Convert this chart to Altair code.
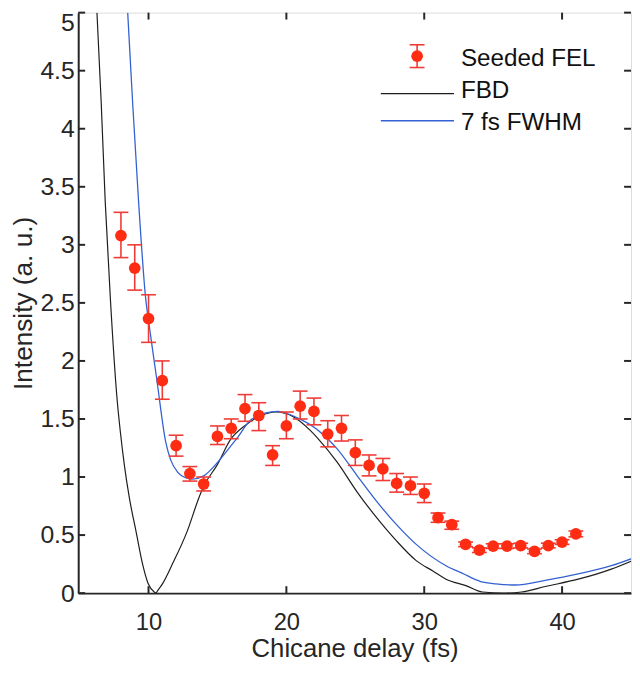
import altair as alt
import pandas as pd

# ---------------- data ----------------
delay = list(range(8, 42))
fel = [3.08, 2.80, 2.365, 1.83, 1.27, 1.03, 0.94, 1.35, 1.42, 1.59, 1.53, 1.19, 1.44, 1.61, 1.565,
       1.37, 1.42, 1.21, 1.10, 1.07, 0.945, 0.925, 0.86, 0.65, 0.59, 0.42, 0.37, 0.405, 0.405, 0.41,
       0.36, 0.41, 0.44, 0.51]
fel_hi = [3.28, 3.00, 2.57, 2.00, 1.36, 1.09, 1.00, 1.44, 1.50, 1.71, 1.64, 1.27, 1.56, 1.74, 1.68,
          1.485, 1.53, 1.32, 1.19, 1.16, 1.03, 1.00, 0.94, 0.69, 0.62, 0.44, 0.39, 0.425, 0.425, 0.43,
          0.38, 0.43, 0.46, 0.535]
fel_lo = [2.89, 2.61, 2.16, 1.67, 1.18, 0.965, 0.88, 1.28, 1.33, 1.48, 1.40, 1.10, 1.33, 1.50, 1.45,
          1.26, 1.31, 1.10, 1.01, 0.97, 0.87, 0.85, 0.78, 0.61, 0.55, 0.40, 0.35, 0.385, 0.385, 0.39,
          0.34, 0.39, 0.42, 0.485]

fbd_x = [6.26, 6.57, 6.86, 7.24, 7.72, 7.96, 8.25, 8.61, 9.09, 9.57, 9.98, 10.41, 10.55, 10.6,
         11.01, 11.73, 12.81, 13.65, 14.0, 14.96, 15.99, 16.96, 18.0, 19.23, 20.5, 21.75, 22.23,
         23.67, 25.11, 26.55, 27.99, 29.42, 30.63, 31.58, 33.02, 34.22, 35.7, 37.05, 38.78, 41.17,
         43.57, 45.1]
fbd_y = [5.0, 4.22, 3.37, 2.52, 1.67, 1.386, 1.10, 0.82, 0.534, 0.25, 0.08, 0.01, 0.0, 0.01,
         0.08, 0.25, 0.534, 0.82, 0.92, 1.10, 1.33, 1.44, 1.52, 1.56, 1.52, 1.40, 1.34,
         1.13, 0.875, 0.65, 0.45, 0.28, 0.19, 0.12, 0.065, 0.01, 0.0, 0.01, 0.057, 0.12,
         0.207, 0.28]

fwhm_x = [8.49, 8.85, 9.28, 9.81, 9.98, 10.6, 11.25, 11.6, 12.09, 12.81, 13.17, 14.0, 14.96, 15.92,
          16.4, 17.5, 19.35, 20.8, 22.23, 23.67, 25.11, 26.55, 27.99, 29.42, 31.58, 32.78, 34.1,
          35.2, 36.6, 38.78, 41.17, 43.57, 45.1]
fwhm_y = [5.0, 4.22, 3.37, 2.52, 2.365, 1.84, 1.30, 1.15, 1.045, 0.99, 0.982, 1.01, 1.12, 1.26,
          1.33, 1.50, 1.565, 1.51, 1.41, 1.245, 1.015, 0.79, 0.59, 0.42, 0.236, 0.17, 0.10,
          0.08, 0.07, 0.11, 0.165, 0.236, 0.30]

x_ticks = [10, 20, 30, 40]
y_ticks = [0, 0.5, 1, 1.5, 2, 2.5, 3, 3.5, 4, 4.5, 5]
legend_labels = ["Seeded FEL", "FBD", "7 fs FWHM"]

# ---------------- style ----------------
W, H = 559, 587
INK = "#262626"
PT = "#FF2C14"
ERR = "#EF3B36"
BLACK = "#1E1E1E"
BLUE = "#3461D1"
FONT = "Liberation Sans"

fel_df = pd.DataFrame({"x": delay, "y": fel, "hi": fel_hi, "lo": fel_lo})
fbd_df = pd.DataFrame({"x": fbd_x, "y": fbd_y})
fwhm_df = pd.DataFrame({"x": fwhm_x, "y": fwhm_y})
xt_df = pd.DataFrame({"v": x_ticks})
yt_df = pd.DataFrame({"v": y_ticks})

xscale = alt.Scale(domain=[4.9, 45], nice=False, zero=False)
yscale = alt.Scale(domain=[0, 5], nice=False, zero=False)

xaxis = alt.Axis(values=x_ticks, ticks=False, tickSize=0, grid=False, labelPadding=18,
                 labelFontSize=24, labelFont=FONT, labelColor=INK, labelOverlap=False,
                 domainColor=INK, domainWidth=2, title="Chicane delay (fs)",
                 titleFont=FONT, titleFontSize=26, titleFontWeight="normal", titleColor=INK,
                 titleBaseline="alphabetic", titleY=64.5)
yaxis = alt.Axis(values=y_ticks, format="~g", ticks=False, tickSize=0, grid=False, labelPadding=4,
                 labelFontSize=25, labelFont=FONT, labelColor=INK, labelOverlap=False,
                 labelOffset=alt.condition("datum.value == 5", alt.value(10), alt.value(0)),
                 domainColor=INK, domainWidth=2, title="Intensity (a. u.)",
                 titleFont=FONT, titleFontSize=26.5, titleFontWeight="normal", titleColor=INK,
                 titleBaseline="alphabetic", titleX=-47)

X = alt.X("x:Q", scale=xscale, axis=xaxis)
Y = alt.Y("y:Q", scale=yscale, axis=yaxis)

fbd_line = alt.Chart(fbd_df).mark_line(color=BLACK, strokeWidth=1.2, clip=True,
                                        interpolate="monotone").encode(x=X, y=Y)
fwhm_line = alt.Chart(fwhm_df).mark_line(color=BLUE, strokeWidth=1.3, clip=True,
                                          interpolate="monotone").encode(x="x:Q", y="y:Q")

err_v = alt.Chart(fel_df).mark_rule(color=ERR, strokeWidth=1.6).encode(
    x="x:Q", y="lo:Q", y2="hi:Q")
cap_hi = alt.Chart(fel_df).mark_rule(color=ERR, strokeWidth=1.6, xOffset=-7.5, x2Offset=7.5).encode(
    x="x:Q", x2="x:Q", y="hi:Q")
cap_lo = alt.Chart(fel_df).mark_rule(color=ERR, strokeWidth=1.6, xOffset=-7.5, x2Offset=7.5).encode(
    x="x:Q", x2="x:Q", y="lo:Q")
pts = alt.Chart(fel_df).mark_circle(color=PT, opacity=1, size=140).encode(x="x:Q", y="y:Q")

# inward ticks on all four sides
tk = dict(color=INK, strokeWidth=2)
t_left = alt.Chart(yt_df).mark_rule(**tk).encode(y="v:Q", x=alt.value(0), x2=alt.value(7))
t_right = alt.Chart(yt_df).mark_rule(**tk).encode(y="v:Q", x=alt.value(W - 7), x2=alt.value(W))
t_bottom = alt.Chart(xt_df).mark_rule(**tk).encode(x="v:Q", y=alt.value(H - 7), y2=alt.value(H))
t_top = alt.Chart(xt_df).mark_rule(**tk).encode(x="v:Q", y=alt.value(0), y2=alt.value(7))

# legend
one = alt.Data(values=[{"k": 0}])
lx, ly0, ly1, ly2 = 342.7, 44.0, 82.0, 109.3
lg_err = alt.Chart(one).mark_rule(color=ERR, strokeWidth=1.6).encode(
    x=alt.value(lx), y=alt.value(ly0 - 11.5), y2=alt.value(ly0 + 11.5))
lg_cap1 = alt.Chart(one).mark_rule(color=ERR, strokeWidth=1.6).encode(
    x=alt.value(lx - 7.5), x2=alt.value(lx + 7.5), y=alt.value(ly0 - 11.5))
lg_cap2 = alt.Chart(one).mark_rule(color=ERR, strokeWidth=1.6).encode(
    x=alt.value(lx - 7.5), x2=alt.value(lx + 7.5), y=alt.value(ly0 + 11.5))
lg_pt = alt.Chart(one).mark_circle(color=PT, opacity=1, size=140).encode(
    x=alt.value(lx), y=alt.value(ly0))
lg_l1 = alt.Chart(one).mark_rule(color=BLACK, strokeWidth=1.3).encode(
    x=alt.value(306), x2=alt.value(380), y=alt.value(ly1))
lg_l2 = alt.Chart(one).mark_rule(color=BLUE, strokeWidth=1.4).encode(
    x=alt.value(306), x2=alt.value(380), y=alt.value(ly2))
txt = dict(align="left", baseline="alphabetic", font=FONT, fontSize=24.5, color="#111111")
lg_t0 = alt.Chart(one).mark_text(**txt).encode(x=alt.value(387), y=alt.value(53.7),
                                               text=alt.value(legend_labels[0]))
lg_t1 = alt.Chart(one).mark_text(**txt).encode(x=alt.value(387), y=alt.value(86.3),
                                               text=alt.value(legend_labels[1]))
lg_t2 = alt.Chart(one).mark_text(**txt).encode(x=alt.value(387), y=alt.value(118.3),
                                               text=alt.value(legend_labels[2]))

chart = alt.layer(
    fbd_line, fwhm_line, err_v, cap_hi, cap_lo, pts,
    t_left, t_right, t_bottom, t_top,
    lg_err, lg_cap1, lg_cap2, lg_pt, lg_l1, lg_l2, lg_t0, lg_t1, lg_t2,
).properties(
    width=W, height=H,
    autosize=alt.AutoSizeParams(type="none"),
    padding={"left": 71, "top": 1, "right": 1, "bottom": 70},
).configure_view(stroke=INK, strokeWidth=2).configure(background="white")

chart.save("out.html", embed_options={"renderer": "svg", "actions": False})
